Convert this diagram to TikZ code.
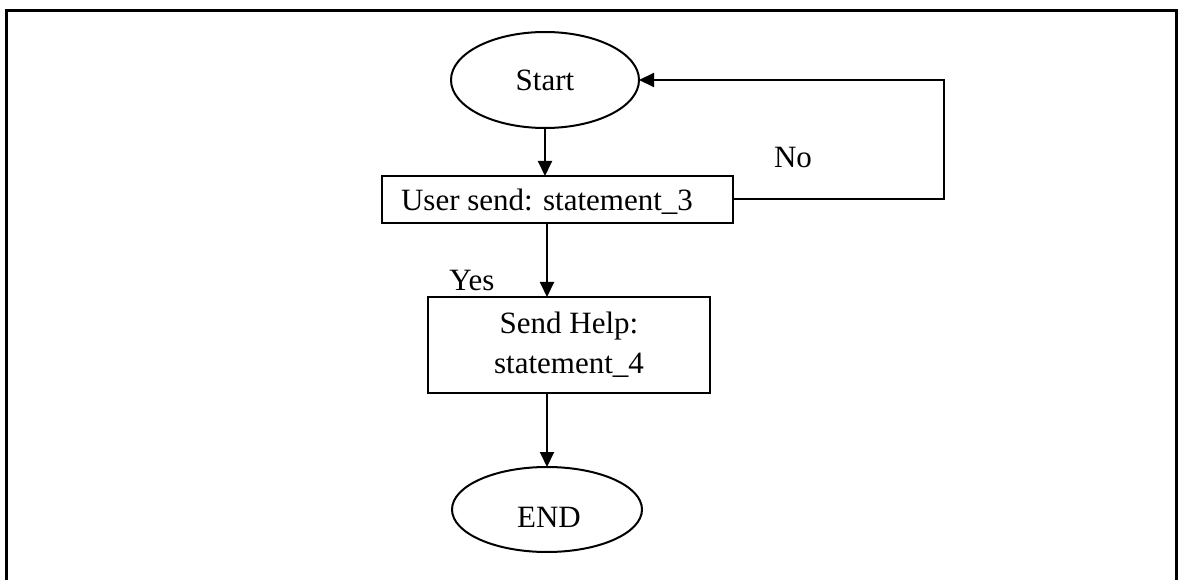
\documentclass[tikz,border=0pt]{standalone}
\usepackage{fontspec}
\setmainfont{Liberation Serif}
\usetikzlibrary{arrows.meta,shapes.geometric}

\tikzset{
  flow/.style={draw=black, line width=2pt, inner sep=0pt, outer sep=0pt,
               font=\fontsize{31}{40}\selectfont, align=center},
  terminal/.style={flow, ellipse, minimum width=188pt},
  process/.style={flow, rectangle},
  link/.style={draw=black, line width=2pt,
               -{Triangle[length=15pt,width=14pt]}},
  tag/.style={font=\fontsize{31}{40}\selectfont, inner sep=0pt},
}

\begin{document}
\begin{tikzpicture}[x=1pt, y=-1pt]
  % page area and open frame
  \useasboundingbox (0,0) rectangle (1179,580);
  \fill[white] (0,0) rectangle (1179,580);
  \draw[line width=3pt] (6.5,580) -- (6.5,10.5) -- (1176,10.5) -- (1176,580);

  % flowchart nodes
  \node[terminal, minimum height=96pt] (start) at (545,80) {Start};
  \node[process, minimum width=351pt, minimum height=47pt] (ask) at (557,199.5) {};
  \node[tag] (asktext) at (547,202) {User send: statement\_3};
  \node[process, minimum width=282pt, minimum height=96pt] (help) at (569,345)
       {Send Help:\\statement\_4};
  \node[terminal, minimum width=190pt, minimum height=85pt] (stop) at (547,509.5) {};
  \node[tag] (stoptext) at (549,517) {END};

  % branch labels
  \node[tag] (yes) at (472,281) {Yes};
  \node[tag] (no) at (793,158) {No};

  % connectors
  \coordinate (turn) at (944,199.5);
  \draw[link] (start.south) -- (start.south |- ask.north);
  \draw[link] (ask.south -| stop.north) -- (help.north -| stop.north);
  \draw[link] (help.south -| stop.north) -- (stop.north);
  \draw[link] (ask.east) -- (turn) |- (start.east);
\end{tikzpicture}
\end{document}
